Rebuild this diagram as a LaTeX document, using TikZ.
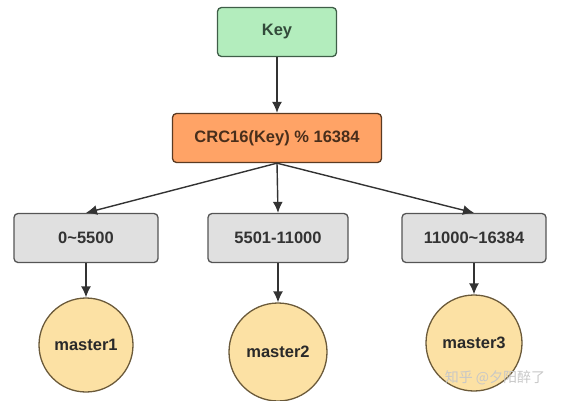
\documentclass[tikz,border=0pt]{standalone}
\usepackage{fontspec}
\setmainfont{Liberation Sans}
\newfontfamily\cjkfont{Noto Sans CJK SC}
\usetikzlibrary{arrows.meta}

\definecolor{keyfill}{HTML}{B3EDBD}
\definecolor{keyline}{HTML}{3F5E48}
\definecolor{crcfill}{HTML}{FFA366}
\definecolor{crcline}{HTML}{5A3A22}
\definecolor{rngfill}{HTML}{E0E0E0}
\definecolor{rngline}{HTML}{555555}
\definecolor{mstfill}{HTML}{FCE1A4}
\definecolor{mstline}{HTML}{6B5A3A}
\definecolor{txtgray}{HTML}{333333}

\begin{document}
\begin{tikzpicture}[
        x=1pt,y=-1pt,
        box/.style={
          draw,
          rounded corners=4pt,
          line width=1.3pt,
          minimum height=49pt,
          font=\fontsize{16.5}{18}\selectfont\bfseries
          },
        keybox/.style={
          box,
          draw=keyline,
          fill=keyfill,
          text=keyline!80!black,
          minimum width=119pt
          },
        crcbox/.style={
          box,
          draw=crcline,
          fill=crcfill,
          text=crcline!80!black,
          minimum width=209pt
          },
        rngbox/.style={
          box,
          draw=rngline,
          fill=rngfill,
          text=txtgray
          },
        mst/.style={
          draw=mstline,
          fill=mstfill,
          circle,
          line width=1.3pt,
          inner sep=0pt,
          text=txtgray!80!black,
          font=\fontsize{16.5}{18}\selectfont\bfseries
          },
        link/.style={
          ->,
          draw=txtgray,
          line width=1.4pt
          },
        >={Latex[length=11pt,width=10pt]}
        ]
        \useasboundingbox (0,0) rectangle (564,400);
        \node[keybox] (key) at (277,32) {Key};
        \node[crcbox] (crc) at (277,138) {CRC16(Key) \% 16384};
        \draw[link] (key) -- (crc);
        \foreach \i/\cx/\rw/\lbl/\my/\md in
          {1/86/144/0\textasciitilde5500/345/94,
           2/278/140/5501-11000/352/98,
           3/474/144/11000\textasciitilde16384/343/96}
        {
          \node[rngbox,minimum width=\rw pt] (rng-\i) at (\cx,238) {\lbl};
          \node[mst,minimum size=\md pt] (mst-\i) at (\cx,\my) {master\i};
          \draw[link] (crc.south) -- (rng-\i.north);
          \draw[link] (rng-\i) -- (mst-\i);
        }
        \node[text=black!22,font=\cjkfont\fontsize{14}{16}\selectfont] (mark) at (495,378) {知乎 @夕阳醉了};
    \end{tikzpicture}
\end{document}
